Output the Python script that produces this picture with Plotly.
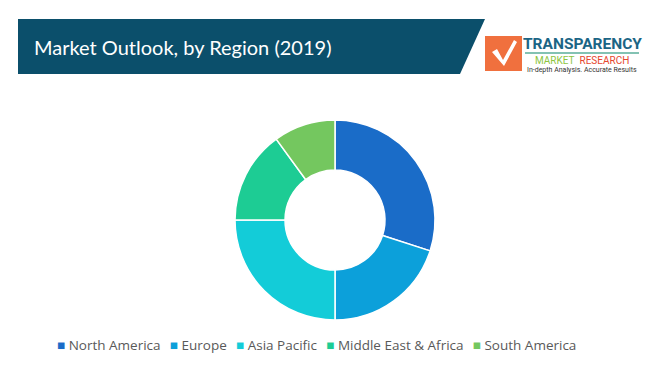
import plotly.graph_objects as go

W, H = 661, 379

regions = ["North America", "Europe", "Asia Pacific", "Middle East & Africa", "South America"]
shares = [30, 20, 25, 15, 10]
colors = ["#1A6CC8", "#0CA0DA", "#13CCD8", "#1DCC94", "#74C75F"]

title_text = "Market Outlook, by Region (2019)"

def px(x):
    return x / W

def py(y):
    return 1 - y / H

fig = go.Figure()
fig.add_trace(go.Pie(
    labels=regions,
    values=shares,
    marker=dict(colors=colors, line=dict(color="white", width=1.5)),
    hole=0.5,
    sort=False,
    direction="clockwise",
    rotation=0,
    textinfo="none",
    hoverinfo="label+percent",
    domain=dict(x=[px(235), px(435)], y=[py(320), py(120)]),
))

shapes = [
    # banner
    dict(type="path", xref="paper", yref="paper",
         path=f"M {px(18)},{py(19)} L {px(485)},{py(19)} L {px(460)},{py(74)} L {px(18)},{py(74)} Z",
         fillcolor="#0B4F6B", line=dict(width=0), layer="below"),
    # logo square
    dict(type="rect", xref="paper", yref="paper",
         x0=px(485), x1=px(522), y0=py(71), y1=py(36),
         fillcolor="#F0703E", line=dict(width=0)),
    # check mark
    dict(type="path", xref="paper", yref="paper",
         path=f"M {px(492)},{py(52)} L {px(497)},{py(49)} L {px(503)},{py(60)} L {px(514)},{py(40)} L {px(517)},{py(42)} L {px(504)},{py(66)} Z",
         fillcolor="white", line=dict(width=0)),
    # underline
    dict(type="line", xref="paper", yref="paper",
         x0=px(525), x1=px(639), y0=py(53), y1=py(53),
         line=dict(color="#5AAE9A", width=1.5)),
]

# compact legend built from the data lists
legend_text = "\u00a0\u00a0\u2009".join(
    f"<span style='color:{c}'>\u25a0</span>\u00a0{r}" for r, c in zip(regions, colors)
)

annotations = [
    dict(text=title_text, x=px(32), y=py(47), xref="paper", yref="paper",
         xanchor="left", yanchor="middle", showarrow=False,
         font=dict(family="Lato", size=20, color="white")),
    dict(text="<b>TRANSPARENCY</b>", x=px(582), y=py(44), xref="paper", yref="paper",
         xanchor="center", yanchor="middle", showarrow=False,
         font=dict(family="Roboto", size=15.5, color="#1B6585")),
    dict(text="<span style='color:#8DC63F'>MARKET</span>\u00a0\u00a0<span style='color:#E6472E'>RESEARCH</span>",
         x=px(582), y=py(61), xref="paper", yref="paper",
         xanchor="center", yanchor="middle", showarrow=False,
         font=dict(family="Roboto", size=10)),
    dict(text="In-depth Analysis. Accurate Results", x=px(582), y=py(70), xref="paper", yref="paper",
         xanchor="center", yanchor="middle", showarrow=False,
         font=dict(family="Roboto", size=7, color="#333333")),
    dict(text=legend_text, x=px(55), y=py(345), xref="paper", yref="paper",
         xanchor="left", yanchor="middle", showarrow=False,
         font=dict(family="Open Sans", size=13.5, color="#595959")),
]

fig.update_layout(
    width=W, height=H,
    margin=dict(l=0, r=0, t=0, b=0),
    paper_bgcolor="white", plot_bgcolor="white",
    shapes=shapes,
    annotations=annotations,
    showlegend=False,
)

fig.write_html("out.html", config={"displayModeBar": False},
               post_script="document.body.style.margin='0';")
